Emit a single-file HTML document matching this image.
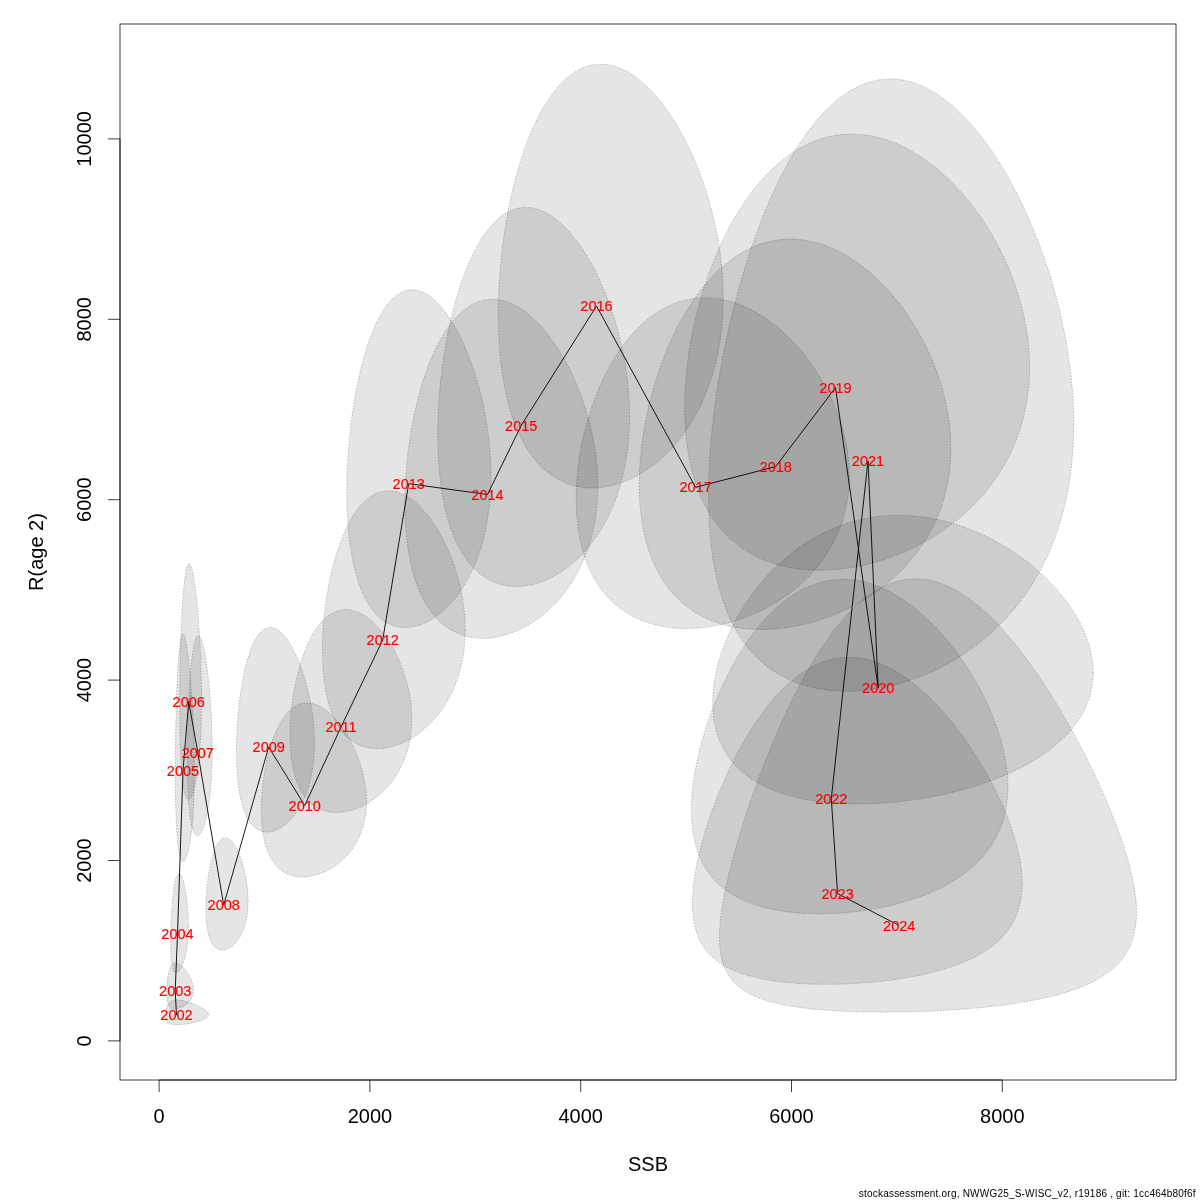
<!DOCTYPE html>
<html><head><meta charset="utf-8"><title>SSB vs R(age 2)</title>
<style>
html,body{margin:0;padding:0;background:#fff;}
body{width:1200px;height:1200px;overflow:hidden;}
svg{display:block;font-family:"Liberation Sans",sans-serif;}
.ax{font-size:20px;fill:#000;}
.yr{font-size:14.5px;fill:#f00;text-anchor:middle;stroke:#f00;stroke-width:0.15px;}
.egg{fill:rgba(0,0,0,0.1);stroke:rgba(0,0,0,0.3);stroke-width:0.75;stroke-dasharray:0.75 2.25;stroke-linecap:round;}
.ln{fill:none;stroke:#000;stroke-width:0.9;stroke-linejoin:round;}
.bx{fill:none;stroke:#000;stroke-width:0.75;}
</style></head><body>
<svg width="1200" height="1200" viewBox="0 0 1200 1200">
<rect width="1200" height="1200" fill="#fff"/>

<g class="egg">
<path d="M208.6,1014.7L208.5,1014.3L208.4,1013.8L208.3,1013.4L208.1,1012.9L207.8,1012.5L207.4,1012.0L207.0,1011.6L206.6,1011.1L206.1,1010.7L205.5,1010.2L204.9,1009.7L204.3,1009.3L203.6,1008.8L202.9,1008.4L202.1,1007.9L201.3,1007.5L200.5,1007.0L199.6,1006.6L198.7,1006.1L197.8,1005.7L196.9,1005.3L196.0,1004.9L195.0,1004.5L194.1,1004.1L193.2,1003.7L192.2,1003.3L191.3,1003.0L190.3,1002.7L189.4,1002.3L188.4,1002.0L187.5,1001.8L186.6,1001.5L185.7,1001.2L184.8,1001.0L184.0,1000.8L183.1,1000.6L182.3,1000.5L181.5,1000.3L180.7,1000.2L180.0,1000.1L179.2,1000.0L178.5,1000.0L177.8,999.9L177.1,999.9L176.5,999.9L175.9,1000.0L175.3,1000.0L174.7,1000.1L174.1,1000.2L173.6,1000.4L173.1,1000.5L172.6,1000.7L172.1,1000.9L171.7,1001.1L171.3,1001.3L170.9,1001.6L170.5,1001.9L170.1,1002.1L169.8,1002.5L169.4,1002.8L169.1,1003.1L168.8,1003.5L168.5,1003.8L168.2,1004.2L168.0,1004.6L167.8,1005.0L167.5,1005.4L167.3,1005.9L167.1,1006.3L166.9,1006.7L166.7,1007.2L166.6,1007.6L166.4,1008.1L166.3,1008.5L166.1,1009.0L166.0,1009.4L165.9,1009.9L165.8,1010.4L165.7,1010.8L165.6,1011.3L165.5,1011.8L165.5,1012.2L165.4,1012.7L165.4,1013.1L165.3,1013.6L165.3,1014.0L165.3,1014.4L165.2,1014.9L165.2,1015.3L165.2,1015.7L165.2,1016.1L165.2,1016.5L165.3,1016.9L165.3,1017.3L165.3,1017.6L165.4,1018.0L165.4,1018.4L165.5,1018.7L165.5,1019.1L165.6,1019.4L165.7,1019.7L165.8,1020.0L165.9,1020.3L166.0,1020.6L166.1,1020.9L166.3,1021.2L166.4,1021.4L166.6,1021.7L166.7,1021.9L166.9,1022.1L167.1,1022.4L167.3,1022.6L167.5,1022.8L167.8,1023.0L168.0,1023.1L168.2,1023.3L168.5,1023.5L168.8,1023.6L169.1,1023.8L169.4,1023.9L169.8,1024.0L170.1,1024.1L170.5,1024.2L170.9,1024.3L171.3,1024.4L171.7,1024.5L172.1,1024.6L172.6,1024.6L173.1,1024.7L173.6,1024.7L174.1,1024.7L174.7,1024.8L175.3,1024.8L175.9,1024.8L176.5,1024.8L177.1,1024.8L177.8,1024.7L178.5,1024.7L179.2,1024.7L180.0,1024.6L180.7,1024.5L181.5,1024.5L182.3,1024.4L183.1,1024.3L184.0,1024.2L184.8,1024.1L185.7,1024.0L186.6,1023.9L187.5,1023.7L188.4,1023.6L189.4,1023.4L190.3,1023.3L191.3,1023.1L192.2,1022.9L193.2,1022.7L194.1,1022.5L195.0,1022.3L196.0,1022.1L196.9,1021.8L197.8,1021.6L198.7,1021.3L199.6,1021.1L200.5,1020.8L201.3,1020.5L202.1,1020.2L202.9,1019.9L203.6,1019.6L204.3,1019.3L204.9,1018.9L205.5,1018.6L206.1,1018.2L206.6,1017.9L207.0,1017.5L207.4,1017.1L207.8,1016.7L208.1,1016.4L208.3,1015.9L208.4,1015.5L208.5,1015.1Z"/>
<path d="M193.5,990.0L193.4,989.2L193.4,988.4L193.3,987.6L193.2,986.8L193.1,986.0L192.9,985.1L192.7,984.3L192.5,983.4L192.2,982.6L191.9,981.7L191.6,980.9L191.3,980.0L190.9,979.2L190.5,978.3L190.1,977.5L189.7,976.7L189.3,975.9L188.8,975.1L188.4,974.3L187.9,973.5L187.4,972.7L186.9,972.0L186.4,971.2L185.8,970.5L185.3,969.8L184.8,969.2L184.2,968.5L183.7,967.9L183.2,967.3L182.6,966.8L182.1,966.3L181.5,965.8L181.0,965.3L180.5,964.9L180.0,964.5L179.4,964.2L178.9,963.9L178.4,963.6L177.9,963.4L177.5,963.2L177.0,963.1L176.5,963.0L176.1,963.0L175.6,962.9L175.2,963.0L174.8,963.0L174.4,963.2L174.0,963.3L173.6,963.5L173.2,963.7L172.9,964.0L172.5,964.3L172.2,964.7L171.8,965.1L171.5,965.5L171.2,966.0L170.9,966.5L170.6,967.0L170.4,967.6L170.1,968.2L169.9,968.8L169.6,969.4L169.4,970.1L169.2,970.8L169.0,971.5L168.8,972.3L168.6,973.0L168.4,973.8L168.3,974.6L168.1,975.4L168.0,976.2L167.8,977.0L167.7,977.9L167.6,978.7L167.5,979.6L167.3,980.4L167.2,981.3L167.2,982.1L167.1,983.0L167.0,983.8L166.9,984.7L166.9,985.5L166.8,986.3L166.8,987.2L166.7,988.0L166.7,988.8L166.7,989.6L166.7,990.4L166.7,991.2L166.6,991.9L166.7,992.7L166.7,993.4L166.7,994.2L166.7,994.9L166.7,995.6L166.8,996.3L166.8,996.9L166.9,997.6L166.9,998.2L167.0,998.8L167.1,999.4L167.2,1000.0L167.2,1000.6L167.3,1001.1L167.5,1001.6L167.6,1002.1L167.7,1002.6L167.8,1003.1L168.0,1003.5L168.1,1004.0L168.3,1004.4L168.4,1004.8L168.6,1005.2L168.8,1005.5L169.0,1005.9L169.2,1006.2L169.4,1006.5L169.6,1006.8L169.9,1007.1L170.1,1007.3L170.4,1007.5L170.6,1007.8L170.9,1007.9L171.2,1008.1L171.5,1008.3L171.8,1008.4L172.2,1008.6L172.5,1008.7L172.9,1008.8L173.2,1008.8L173.6,1008.9L174.0,1008.9L174.4,1009.0L174.8,1009.0L175.2,1008.9L175.6,1008.9L176.1,1008.9L176.5,1008.8L177.0,1008.7L177.5,1008.6L177.9,1008.5L178.4,1008.4L178.9,1008.2L179.4,1008.1L180.0,1007.9L180.5,1007.7L181.0,1007.4L181.5,1007.2L182.1,1006.9L182.6,1006.7L183.2,1006.4L183.7,1006.1L184.2,1005.7L184.8,1005.4L185.3,1005.0L185.8,1004.6L186.4,1004.2L186.9,1003.8L187.4,1003.3L187.9,1002.9L188.4,1002.4L188.8,1001.9L189.3,1001.4L189.7,1000.9L190.1,1000.3L190.5,999.7L190.9,999.2L191.3,998.5L191.6,997.9L191.9,997.3L192.2,996.6L192.5,996.0L192.7,995.3L192.9,994.6L193.1,993.8L193.2,993.1L193.3,992.4L193.4,991.6L193.4,990.8Z"/>
<path d="M188.4,925.6L188.4,923.8L188.3,922.0L188.3,920.2L188.2,918.4L188.2,916.6L188.1,914.8L188.0,912.9L187.8,911.1L187.7,909.3L187.6,907.5L187.4,905.7L187.2,903.9L187.0,902.1L186.8,900.4L186.6,898.7L186.4,897.0L186.1,895.3L185.9,893.7L185.6,892.1L185.4,890.6L185.1,889.1L184.8,887.6L184.5,886.2L184.2,884.9L183.9,883.6L183.6,882.4L183.3,881.3L183.0,880.2L182.6,879.2L182.3,878.3L182.0,877.5L181.7,876.7L181.3,876.0L181.0,875.4L180.7,874.9L180.3,874.5L180.0,874.2L179.7,874.0L179.4,873.8L179.0,873.7L178.7,873.8L178.4,873.9L178.1,874.1L177.8,874.4L177.5,874.8L177.2,875.3L176.9,875.9L176.6,876.5L176.3,877.3L176.1,878.1L175.8,879.0L175.5,879.9L175.3,881.0L175.0,882.1L174.8,883.3L174.6,884.5L174.3,885.9L174.1,887.2L173.9,888.7L173.7,890.1L173.5,891.7L173.3,893.2L173.1,894.8L172.9,896.5L172.8,898.2L172.6,899.9L172.4,901.6L172.3,903.4L172.1,905.2L172.0,907.0L171.9,908.8L171.7,910.6L171.6,912.4L171.5,914.3L171.4,916.1L171.3,917.9L171.2,919.7L171.1,921.5L171.1,923.3L171.0,925.1L170.9,926.9L170.9,928.6L170.8,930.4L170.8,932.1L170.8,933.8L170.7,935.4L170.7,937.1L170.7,938.7L170.7,940.2L170.7,941.8L170.7,943.3L170.7,944.8L170.7,946.2L170.7,947.6L170.8,949.0L170.8,950.3L170.8,951.6L170.9,952.9L170.9,954.1L171.0,955.3L171.1,956.4L171.1,957.5L171.2,958.6L171.3,959.6L171.4,960.6L171.5,961.5L171.6,962.4L171.7,963.3L171.9,964.1L172.0,964.9L172.1,965.6L172.3,966.3L172.4,967.0L172.6,967.6L172.8,968.2L172.9,968.8L173.1,969.3L173.3,969.8L173.5,970.2L173.7,970.6L173.9,971.0L174.1,971.3L174.3,971.6L174.6,971.8L174.8,972.0L175.0,972.2L175.3,972.4L175.5,972.5L175.8,972.5L176.1,972.5L176.3,972.5L176.6,972.5L176.9,972.4L177.2,972.3L177.5,972.1L177.8,971.9L178.1,971.7L178.4,971.4L178.7,971.1L179.0,970.7L179.4,970.3L179.7,969.9L180.0,969.4L180.3,968.9L180.7,968.4L181.0,967.8L181.3,967.2L181.7,966.5L182.0,965.8L182.3,965.1L182.6,964.3L183.0,963.5L183.3,962.7L183.6,961.8L183.9,960.8L184.2,959.9L184.5,958.8L184.8,957.8L185.1,956.7L185.4,955.6L185.6,954.4L185.9,953.2L186.1,951.9L186.4,950.7L186.6,949.3L186.8,948.0L187.0,946.6L187.2,945.2L187.4,943.7L187.6,942.2L187.7,940.7L187.8,939.1L188.0,937.5L188.1,935.9L188.2,934.2L188.2,932.6L188.3,930.9L188.3,929.1L188.4,927.4Z"/>
<path d="M194.4,770.8L194.4,766.9L194.3,763.0L194.3,759.0L194.2,755.0L194.2,750.9L194.1,746.8L194.0,742.7L193.8,738.5L193.7,734.4L193.5,730.2L193.4,726.0L193.2,721.9L193.0,717.7L192.8,713.6L192.6,709.5L192.3,705.4L192.1,701.3L191.8,697.3L191.6,693.4L191.3,689.5L191.0,685.7L190.7,682.0L190.4,678.3L190.1,674.8L189.8,671.3L189.5,668.0L189.1,664.8L188.8,661.7L188.5,658.7L188.1,655.9L187.8,653.2L187.4,650.7L187.1,648.3L186.7,646.1L186.4,644.1L186.1,642.2L185.7,640.6L185.4,639.1L185.0,637.8L184.7,636.7L184.3,635.8L184.0,635.1L183.7,634.6L183.3,634.3L183.0,634.2L182.7,634.3L182.4,634.6L182.0,635.1L181.7,635.8L181.4,636.7L181.1,637.8L180.9,639.1L180.6,640.6L180.3,642.2L180.0,644.1L179.8,646.1L179.5,648.3L179.3,650.7L179.0,653.2L178.8,655.9L178.5,658.7L178.3,661.7L178.1,664.8L177.9,668.0L177.7,671.3L177.5,674.8L177.3,678.3L177.2,682.0L177.0,685.7L176.8,689.5L176.7,693.4L176.5,697.3L176.4,701.3L176.3,705.4L176.2,709.5L176.1,713.6L176.0,717.7L175.9,721.9L175.8,726.0L175.7,730.2L175.6,734.4L175.5,738.5L175.5,742.7L175.4,746.8L175.4,750.9L175.4,755.0L175.3,759.0L175.3,763.0L175.3,766.9L175.3,770.8L175.3,774.6L175.3,778.4L175.3,782.1L175.4,785.8L175.4,789.3L175.4,792.8L175.5,796.3L175.5,799.6L175.6,802.9L175.7,806.1L175.8,809.2L175.9,812.2L176.0,815.2L176.1,818.0L176.2,820.8L176.3,823.5L176.4,826.1L176.5,828.6L176.7,831.0L176.8,833.3L177.0,835.5L177.2,837.7L177.3,839.7L177.5,841.6L177.7,843.5L177.9,845.3L178.1,846.9L178.3,848.5L178.5,850.0L178.8,851.4L179.0,852.7L179.3,853.9L179.5,855.1L179.8,856.1L180.0,857.1L180.3,857.9L180.6,858.7L180.9,859.3L181.1,859.9L181.4,860.4L181.7,860.8L182.0,861.1L182.4,861.4L182.7,861.5L183.0,861.5L183.3,861.5L183.7,861.4L184.0,861.1L184.3,860.8L184.7,860.4L185.0,859.9L185.4,859.3L185.7,858.7L186.1,857.9L186.4,857.1L186.7,856.1L187.1,855.1L187.4,853.9L187.8,852.7L188.1,851.4L188.5,850.0L188.8,848.5L189.1,846.9L189.5,845.3L189.8,843.5L190.1,841.6L190.4,839.7L190.7,837.7L191.0,835.5L191.3,833.3L191.6,831.0L191.8,828.6L192.1,826.1L192.3,823.5L192.6,820.8L192.8,818.0L193.0,815.2L193.2,812.2L193.4,809.2L193.5,806.1L193.7,802.9L193.8,799.6L194.0,796.3L194.1,792.8L194.2,789.3L194.2,785.8L194.3,782.1L194.3,778.4L194.4,774.6Z"/>
<path d="M201.5,698.5L201.5,694.4L201.5,690.2L201.4,686.1L201.4,681.9L201.3,677.6L201.2,673.4L201.1,669.1L200.9,664.8L200.8,660.6L200.6,656.3L200.4,652.0L200.2,647.8L200.0,643.6L199.8,639.4L199.5,635.3L199.3,631.2L199.0,627.1L198.7,623.2L198.4,619.2L198.1,615.4L197.8,611.7L197.4,608.0L197.1,604.4L196.8,601.0L196.4,597.6L196.0,594.4L195.7,591.3L195.3,588.4L194.9,585.6L194.5,582.9L194.1,580.4L193.8,578.0L193.4,575.8L193.0,573.8L192.6,571.9L192.2,570.2L191.8,568.7L191.4,567.4L191.0,566.3L190.6,565.4L190.2,564.7L189.8,564.1L189.5,563.8L189.1,563.6L188.7,563.7L188.3,564.0L188.0,564.4L187.6,565.1L187.3,565.9L186.9,566.9L186.6,568.2L186.2,569.6L185.9,571.2L185.6,573.0L185.3,574.9L185.0,577.1L184.7,579.4L184.4,581.8L184.1,584.4L183.8,587.2L183.6,590.1L183.3,593.1L183.1,596.3L182.8,599.6L182.6,603.0L182.4,606.5L182.2,610.1L182.0,613.8L181.8,617.6L181.6,621.5L181.4,625.5L181.2,629.5L181.1,633.6L180.9,637.7L180.8,641.8L180.6,646.0L180.5,650.3L180.4,654.5L180.3,658.8L180.2,663.1L180.1,667.3L180.1,671.6L180.0,675.9L179.9,680.1L179.9,684.3L179.8,688.5L179.8,692.7L179.8,696.8L179.8,700.9L179.8,704.9L179.8,708.9L179.8,712.8L179.8,716.6L179.8,720.4L179.9,724.2L179.9,727.8L180.0,731.4L180.1,734.9L180.1,738.4L180.2,741.7L180.3,745.0L180.4,748.2L180.5,751.3L180.6,754.3L180.8,757.2L180.9,760.1L181.1,762.8L181.2,765.5L181.4,768.0L181.6,770.5L181.8,772.8L182.0,775.1L182.2,777.3L182.4,779.4L182.6,781.3L182.8,783.2L183.1,785.0L183.3,786.6L183.6,788.2L183.8,789.7L184.1,791.1L184.4,792.3L184.7,793.5L185.0,794.6L185.3,795.6L185.6,796.4L185.9,797.2L186.2,797.9L186.6,798.5L186.9,798.9L187.3,799.3L187.6,799.6L188.0,799.7L188.3,799.8L188.7,799.8L189.1,799.7L189.5,799.4L189.8,799.1L190.2,798.7L190.6,798.1L191.0,797.5L191.4,796.8L191.8,795.9L192.2,795.0L192.6,794.0L193.0,792.8L193.4,791.6L193.8,790.3L194.1,788.8L194.5,787.3L194.9,785.7L195.3,784.0L195.7,782.1L196.0,780.2L196.4,778.2L196.8,776.0L197.1,773.8L197.4,771.5L197.8,769.1L198.1,766.5L198.4,763.9L198.7,761.2L199.0,758.4L199.3,755.6L199.5,752.6L199.8,749.5L200.0,746.4L200.2,743.1L200.4,739.8L200.6,736.4L200.8,732.9L200.9,729.3L201.1,725.7L201.2,722.0L201.3,718.2L201.4,714.4L201.4,710.5L201.5,706.5L201.5,702.5Z"/>
<path d="M212.1,748.9L212.1,745.4L212.1,741.9L212.0,738.4L211.9,734.8L211.9,731.2L211.7,727.6L211.6,724.0L211.5,720.4L211.3,716.8L211.1,713.1L210.9,709.5L210.7,706.0L210.4,702.4L210.2,698.9L209.9,695.4L209.6,691.9L209.3,688.5L209.0,685.2L208.7,681.9L208.3,678.7L208.0,675.5L207.6,672.4L207.3,669.4L206.9,666.5L206.5,663.7L206.1,661.0L205.7,658.4L205.2,656.0L204.8,653.6L204.4,651.4L204.0,649.3L203.5,647.3L203.1,645.5L202.6,643.8L202.2,642.3L201.8,640.9L201.3,639.7L200.9,638.6L200.4,637.7L200.0,637.0L199.5,636.4L199.1,636.0L198.7,635.8L198.2,635.7L197.8,635.8L197.4,636.0L197.0,636.5L196.5,637.0L196.1,637.8L195.7,638.7L195.4,639.8L195.0,641.0L194.6,642.4L194.2,644.0L193.9,645.7L193.5,647.5L193.2,649.5L192.8,651.6L192.5,653.8L192.2,656.2L191.9,658.7L191.6,661.3L191.3,664.0L191.0,666.8L190.7,669.7L190.5,672.7L190.2,675.8L190.0,679.0L189.7,682.2L189.5,685.5L189.3,688.8L189.1,692.3L188.9,695.7L188.7,699.2L188.6,702.7L188.4,706.3L188.3,709.9L188.1,713.5L188.0,717.1L187.9,720.7L187.8,724.3L187.7,727.9L187.6,731.5L187.6,735.1L187.5,738.7L187.4,742.2L187.4,745.7L187.4,749.2L187.4,752.7L187.4,756.1L187.4,759.4L187.4,762.7L187.4,766.0L187.4,769.2L187.5,772.3L187.6,775.4L187.6,778.4L187.7,781.4L187.8,784.3L187.9,787.1L188.0,789.9L188.1,792.6L188.3,795.2L188.4,797.7L188.6,800.2L188.7,802.6L188.9,804.9L189.1,807.1L189.3,809.2L189.5,811.3L189.7,813.3L190.0,815.2L190.2,817.0L190.5,818.7L190.7,820.4L191.0,821.9L191.3,823.4L191.6,824.8L191.9,826.1L192.2,827.4L192.5,828.5L192.8,829.6L193.2,830.5L193.5,831.4L193.9,832.2L194.2,833.0L194.6,833.6L195.0,834.1L195.4,834.6L195.7,835.0L196.1,835.3L196.5,835.5L197.0,835.6L197.4,835.6L197.8,835.6L198.2,835.5L198.7,835.2L199.1,834.9L199.5,834.6L200.0,834.1L200.4,833.5L200.9,832.9L201.3,832.2L201.8,831.3L202.2,830.5L202.6,829.5L203.1,828.4L203.5,827.3L204.0,826.0L204.4,824.7L204.8,823.3L205.2,821.8L205.7,820.2L206.1,818.6L206.5,816.8L206.9,815.0L207.3,813.1L207.6,811.1L208.0,809.0L208.3,806.9L208.7,804.6L209.0,802.3L209.3,799.9L209.6,797.5L209.9,794.9L210.2,792.3L210.4,789.6L210.7,786.9L210.9,784.0L211.1,781.1L211.3,778.2L211.5,775.1L211.6,772.0L211.7,768.9L211.9,765.7L211.9,762.4L212.0,759.1L212.1,755.7L212.1,752.3Z"/>
<path d="M248.1,901.0L248.1,899.0L248.0,897.0L247.9,895.0L247.8,893.0L247.7,890.9L247.5,888.9L247.3,886.8L247.0,884.8L246.7,882.7L246.4,880.7L246.1,878.6L245.7,876.6L245.3,874.5L244.8,872.5L244.4,870.5L243.9,868.6L243.4,866.6L242.8,864.7L242.3,862.9L241.7,861.0L241.1,859.2L240.4,857.5L239.8,855.8L239.2,854.2L238.5,852.6L237.8,851.1L237.1,849.6L236.4,848.2L235.7,846.9L234.9,845.7L234.2,844.5L233.4,843.5L232.7,842.5L231.9,841.6L231.2,840.8L230.4,840.0L229.7,839.4L228.9,838.9L228.2,838.4L227.4,838.1L226.6,837.9L225.9,837.7L225.2,837.7L224.4,837.7L223.7,837.9L223.0,838.1L222.3,838.5L221.6,839.0L220.9,839.5L220.2,840.1L219.5,840.9L218.9,841.7L218.2,842.6L217.6,843.6L217.0,844.7L216.4,845.9L215.8,847.1L215.2,848.5L214.7,849.8L214.1,851.3L213.6,852.8L213.1,854.4L212.6,856.1L212.1,857.8L211.7,859.5L211.2,861.3L210.8,863.2L210.4,865.0L210.0,867.0L209.6,868.9L209.3,870.9L208.9,872.9L208.6,874.9L208.3,876.9L208.0,879.0L207.8,881.0L207.5,883.1L207.3,885.1L207.1,887.2L206.9,889.2L206.7,891.3L206.6,893.3L206.4,895.3L206.3,897.3L206.2,899.3L206.1,901.3L206.1,903.2L206.0,905.2L206.0,907.1L206.0,908.9L206.0,910.8L206.0,912.6L206.1,914.3L206.1,916.1L206.2,917.7L206.3,919.4L206.4,921.0L206.6,922.6L206.7,924.1L206.9,925.6L207.1,927.1L207.3,928.5L207.5,929.9L207.8,931.2L208.0,932.5L208.3,933.7L208.6,934.9L208.9,936.1L209.3,937.2L209.6,938.2L210.0,939.2L210.4,940.2L210.8,941.1L211.2,942.0L211.7,942.8L212.1,943.6L212.6,944.4L213.1,945.0L213.6,945.7L214.1,946.3L214.7,946.8L215.2,947.4L215.8,947.8L216.4,948.2L217.0,948.6L217.6,949.0L218.2,949.2L218.9,949.5L219.5,949.7L220.2,949.8L220.9,949.9L221.6,950.0L222.3,950.0L223.0,950.0L223.7,949.9L224.4,949.8L225.2,949.6L225.9,949.4L226.6,949.2L227.4,948.9L228.2,948.6L228.9,948.2L229.7,947.8L230.4,947.3L231.2,946.8L231.9,946.2L232.7,945.6L233.4,944.9L234.2,944.2L234.9,943.5L235.7,942.7L236.4,941.9L237.1,941.0L237.8,940.0L238.5,939.1L239.2,938.1L239.8,937.0L240.4,935.9L241.1,934.7L241.7,933.5L242.3,932.3L242.8,931.0L243.4,929.7L243.9,928.3L244.4,926.9L244.8,925.4L245.3,923.9L245.7,922.3L246.1,920.8L246.4,919.1L246.7,917.5L247.0,915.8L247.3,914.0L247.5,912.3L247.7,910.4L247.8,908.6L247.9,906.7L248.0,904.8L248.1,902.9Z"/>
<path d="M314.4,743.0L314.4,739.4L314.3,735.8L314.2,732.2L313.9,728.5L313.6,724.8L313.3,721.2L312.8,717.5L312.4,713.8L311.8,710.1L311.2,706.4L310.6,702.7L309.8,699.0L309.1,695.4L308.2,691.8L307.4,688.2L306.4,684.7L305.5,681.2L304.4,677.8L303.4,674.4L302.3,671.1L301.1,667.9L300.0,664.7L298.8,661.7L297.5,658.7L296.2,655.9L295.0,653.1L293.6,650.5L292.3,647.9L291.0,645.5L289.6,643.3L288.2,641.1L286.8,639.1L285.4,637.3L284.0,635.6L282.6,634.0L281.2,632.6L279.8,631.4L278.4,630.3L276.9,629.4L275.5,628.7L274.2,628.1L272.8,627.7L271.4,627.5L270.0,627.4L268.7,627.5L267.4,627.8L266.1,628.3L264.8,628.9L263.5,629.7L262.3,630.6L261.0,631.8L259.8,633.0L258.7,634.5L257.5,636.1L256.4,637.8L255.3,639.7L254.2,641.8L253.2,643.9L252.1,646.2L251.2,648.7L250.2,651.2L249.3,653.9L248.4,656.7L247.5,659.6L246.7,662.6L245.9,665.6L245.1,668.8L244.4,672.1L243.7,675.4L243.0,678.8L242.4,682.2L241.8,685.7L241.2,689.2L240.6,692.8L240.1,696.4L239.6,700.1L239.2,703.8L238.8,707.4L238.4,711.1L238.1,714.8L237.8,718.5L237.5,722.2L237.2,725.9L237.0,729.6L236.8,733.2L236.7,736.8L236.6,740.4L236.5,744.0L236.4,747.5L236.4,751.0L236.4,754.4L236.5,757.8L236.6,761.1L236.7,764.4L236.8,767.6L237.0,770.8L237.2,773.8L237.5,776.9L237.8,779.8L238.1,782.7L238.4,785.5L238.8,788.2L239.2,790.9L239.6,793.5L240.1,796.0L240.6,798.4L241.2,800.8L241.8,803.0L242.4,805.2L243.0,807.3L243.7,809.3L244.4,811.3L245.1,813.1L245.9,814.9L246.7,816.6L247.5,818.2L248.4,819.7L249.3,821.1L250.2,822.4L251.2,823.7L252.1,824.8L253.2,825.9L254.2,826.9L255.3,827.8L256.4,828.6L257.5,829.3L258.7,830.0L259.8,830.5L261.0,831.0L262.3,831.4L263.5,831.7L264.8,831.9L266.1,832.0L267.4,832.0L268.7,831.9L270.0,831.8L271.4,831.6L272.8,831.3L274.2,830.9L275.5,830.4L276.9,829.8L278.4,829.1L279.8,828.4L281.2,827.5L282.6,826.6L284.0,825.6L285.4,824.5L286.8,823.3L288.2,822.0L289.6,820.7L291.0,819.2L292.3,817.7L293.6,816.1L295.0,814.4L296.2,812.6L297.5,810.7L298.8,808.8L300.0,806.7L301.1,804.6L302.3,802.4L303.4,800.1L304.4,797.7L305.5,795.3L306.4,792.7L307.4,790.1L308.2,787.5L309.1,784.7L309.8,781.9L310.6,779.0L311.2,776.0L311.8,772.9L312.4,769.8L312.8,766.7L313.3,763.4L313.6,760.2L313.9,756.8L314.2,753.4L314.3,750.0L314.4,746.5Z"/>
<path d="M366.5,801.5L366.5,798.5L366.3,795.4L366.1,792.3L365.8,789.2L365.4,786.1L364.9,782.9L364.3,779.8L363.7,776.6L363.0,773.4L362.1,770.3L361.2,767.1L360.3,764.0L359.2,760.9L358.1,757.8L356.9,754.7L355.7,751.7L354.3,748.7L353.0,745.8L351.5,742.9L350.0,740.1L348.5,737.3L346.9,734.6L345.3,732.0L343.6,729.5L341.9,727.0L340.1,724.7L338.4,722.4L336.6,720.2L334.7,718.2L332.9,716.2L331.0,714.4L329.1,712.7L327.2,711.1L325.3,709.7L323.4,708.4L321.5,707.2L319.6,706.1L317.7,705.2L315.8,704.5L313.9,703.9L312.0,703.4L310.2,703.1L308.3,702.9L306.5,702.9L304.7,703.0L302.9,703.3L301.2,703.7L299.4,704.3L297.7,705.0L296.0,705.8L294.4,706.8L292.8,708.0L291.2,709.2L289.6,710.6L288.1,712.2L286.6,713.8L285.2,715.6L283.8,717.5L282.4,719.5L281.1,721.7L279.8,723.9L278.6,726.2L277.4,728.6L276.2,731.1L275.1,733.7L274.0,736.4L273.0,739.1L272.0,741.9L271.0,744.8L270.1,747.7L269.3,750.7L268.5,753.7L267.7,756.8L267.0,759.8L266.3,762.9L265.6,766.1L265.0,769.2L264.5,772.4L264.0,775.5L263.5,778.7L263.1,781.9L262.7,785.0L262.4,788.1L262.1,791.3L261.9,794.4L261.7,797.4L261.5,800.5L261.4,803.5L261.3,806.5L261.3,809.4L261.3,812.3L261.4,815.2L261.5,818.0L261.7,820.8L261.9,823.5L262.1,826.1L262.4,828.7L262.7,831.2L263.1,833.7L263.5,836.1L264.0,838.5L264.5,840.8L265.0,843.0L265.6,845.2L266.3,847.3L267.0,849.3L267.7,851.2L268.5,853.1L269.3,855.0L270.1,856.7L271.0,858.4L272.0,860.0L273.0,861.5L274.0,863.0L275.1,864.4L276.2,865.7L277.4,866.9L278.6,868.1L279.8,869.2L281.1,870.2L282.4,871.2L283.8,872.0L285.2,872.9L286.6,873.6L288.1,874.3L289.6,874.8L291.2,875.4L292.8,875.8L294.4,876.2L296.0,876.5L297.7,876.7L299.4,876.9L301.2,877.0L302.9,877.0L304.7,876.9L306.5,876.8L308.3,876.6L310.2,876.3L312.0,875.9L313.9,875.5L315.8,875.0L317.7,874.5L319.6,873.8L321.5,873.1L323.4,872.3L325.3,871.5L327.2,870.5L329.1,869.5L331.0,868.5L332.9,867.3L334.7,866.1L336.6,864.8L338.4,863.4L340.1,862.0L341.9,860.5L343.6,858.9L345.3,857.3L346.9,855.5L348.5,853.7L350.0,851.9L351.5,850.0L353.0,847.9L354.3,845.9L355.7,843.7L356.9,841.5L358.1,839.3L359.2,836.9L360.3,834.5L361.2,832.1L362.1,829.6L363.0,827.0L363.7,824.3L364.3,821.7L364.9,818.9L365.4,816.1L365.8,813.3L366.1,810.4L366.3,807.5L366.5,804.5Z"/>
<path d="M411.8,719.0L411.8,715.4L411.6,711.8L411.4,708.2L411.0,704.5L410.6,700.9L410.0,697.2L409.4,693.6L408.6,689.9L407.8,686.3L406.9,682.7L405.8,679.0L404.7,675.5L403.5,671.9L402.3,668.4L400.9,665.0L399.5,661.6L398.0,658.2L396.4,654.9L394.8,651.7L393.1,648.6L391.3,645.5L389.5,642.5L387.7,639.6L385.8,636.9L383.8,634.2L381.8,631.6L379.8,629.2L377.7,626.9L375.6,624.7L373.5,622.6L371.4,620.7L369.2,618.9L367.0,617.3L364.8,615.8L362.7,614.5L360.5,613.3L358.3,612.2L356.1,611.4L353.9,610.7L351.7,610.2L349.5,609.8L347.4,609.6L345.2,609.5L343.1,609.7L341.0,610.0L338.9,610.4L336.9,611.1L334.9,611.9L332.9,612.8L330.9,613.9L329.0,615.2L327.1,616.6L325.2,618.2L323.4,619.9L321.7,621.8L319.9,623.8L318.2,625.9L316.6,628.2L315.0,630.6L313.4,633.1L311.9,635.7L310.5,638.4L309.0,641.3L307.7,644.2L306.3,647.2L305.1,650.3L303.9,653.5L302.7,656.8L301.6,660.1L300.5,663.5L299.5,666.9L298.5,670.4L297.6,673.9L296.7,677.5L295.9,681.1L295.2,684.7L294.5,688.3L293.8,692.0L293.2,695.6L292.7,699.3L292.2,702.9L291.7,706.6L291.3,710.2L291.0,713.8L290.7,717.4L290.4,721.0L290.3,724.5L290.1,728.0L290.1,731.4L290.0,734.8L290.1,738.2L290.1,741.5L290.3,744.8L290.4,748.0L290.7,751.1L291.0,754.2L291.3,757.2L291.7,760.2L292.2,763.0L292.7,765.9L293.2,768.6L293.8,771.3L294.5,773.9L295.2,776.4L295.9,778.8L296.7,781.2L297.6,783.4L298.5,785.6L299.5,787.7L300.5,789.8L301.6,791.7L302.7,793.6L303.9,795.3L305.1,797.0L306.3,798.6L307.7,800.1L309.0,801.6L310.5,802.9L311.9,804.2L313.4,805.3L315.0,806.4L316.6,807.4L318.2,808.3L319.9,809.1L321.7,809.8L323.4,810.5L325.2,811.0L327.1,811.5L329.0,811.9L330.9,812.2L332.9,812.3L334.9,812.5L336.9,812.5L338.9,812.4L341.0,812.2L343.1,812.0L345.2,811.7L347.4,811.2L349.5,810.7L351.7,810.1L353.9,809.4L356.1,808.7L358.3,807.8L360.5,806.9L362.7,805.8L364.8,804.7L367.0,803.5L369.2,802.2L371.4,800.8L373.5,799.3L375.6,797.7L377.7,796.1L379.8,794.3L381.8,792.5L383.8,790.6L385.8,788.6L387.7,786.5L389.5,784.4L391.3,782.2L393.1,779.8L394.8,777.4L396.4,775.0L398.0,772.4L399.5,769.8L400.9,767.1L402.3,764.3L403.5,761.4L404.7,758.5L405.8,755.5L406.9,752.5L407.8,749.3L408.6,746.2L409.4,742.9L410.0,739.6L410.6,736.3L411.0,732.9L411.4,729.5L411.6,726.0L411.8,722.5Z"/>
<path d="M465.2,629.7L465.2,625.2L465.0,620.6L464.7,616.0L464.3,611.4L463.8,606.7L463.1,602.1L462.4,597.4L461.5,592.8L460.6,588.2L459.5,583.6L458.3,579.0L457.0,574.5L455.6,570.0L454.2,565.5L452.6,561.1L451.0,556.8L449.2,552.5L447.4,548.4L445.5,544.3L443.5,540.3L441.5,536.4L439.4,532.6L437.2,529.0L435.0,525.5L432.7,522.1L430.4,518.8L428.0,515.7L425.6,512.8L423.2,510.0L420.7,507.4L418.2,504.9L415.7,502.7L413.2,500.6L410.6,498.7L408.1,497.0L405.5,495.5L402.9,494.2L400.4,493.1L397.8,492.3L395.2,491.6L392.7,491.1L390.2,490.9L387.7,490.8L385.2,491.0L382.7,491.4L380.3,492.0L377.9,492.8L375.5,493.8L373.1,495.0L370.8,496.4L368.6,498.0L366.3,499.8L364.2,501.8L362.0,504.0L359.9,506.4L357.9,508.9L355.9,511.6L353.9,514.5L352.0,517.5L350.2,520.7L348.4,524.1L346.7,527.5L345.0,531.1L343.4,534.9L341.8,538.7L340.3,542.6L338.9,546.7L337.5,550.8L336.1,555.1L334.9,559.4L333.7,563.7L332.5,568.1L331.4,572.6L330.4,577.2L329.4,581.7L328.5,586.3L327.7,590.9L326.9,595.6L326.2,600.2L325.5,604.9L325.0,609.5L324.4,614.1L324.0,618.7L323.5,623.3L323.2,627.9L322.9,632.4L322.7,636.9L322.5,641.3L322.5,645.7L322.4,650.0L322.5,654.3L322.5,658.5L322.7,662.7L322.9,666.7L323.2,670.7L323.5,674.6L324.0,678.5L324.4,682.2L325.0,685.9L325.5,689.5L326.2,692.9L326.9,696.3L327.7,699.6L328.5,702.8L329.4,705.9L330.4,708.9L331.4,711.8L332.5,714.6L333.7,717.3L334.9,719.9L336.1,722.3L337.5,724.7L338.9,726.9L340.3,729.1L341.8,731.1L343.4,733.1L345.0,734.9L346.7,736.6L348.4,738.2L350.2,739.7L352.0,741.0L353.9,742.3L355.9,743.4L357.9,744.5L359.9,745.4L362.0,746.2L364.2,746.9L366.3,747.5L368.6,748.0L370.8,748.3L373.1,748.6L375.5,748.7L377.9,748.7L380.3,748.6L382.7,748.4L385.2,748.1L387.7,747.7L390.2,747.1L392.7,746.5L395.2,745.7L397.8,744.9L400.4,743.9L402.9,742.8L405.5,741.5L408.1,740.2L410.6,738.8L413.2,737.2L415.7,735.6L418.2,733.8L420.7,731.9L423.2,729.9L425.6,727.8L428.0,725.6L430.4,723.3L432.7,720.9L435.0,718.3L437.2,715.7L439.4,712.9L441.5,710.1L443.5,707.1L445.5,704.1L447.4,700.9L449.2,697.7L451.0,694.3L452.6,690.9L454.2,687.3L455.6,683.7L457.0,680.0L458.3,676.2L459.5,672.3L460.6,668.4L461.5,664.3L462.4,660.2L463.1,656.0L463.8,651.8L464.3,647.5L464.7,643.1L465.0,638.7L465.2,634.2Z"/>
<path d="M490.9,475.6L490.9,469.7L490.7,463.8L490.4,457.8L490.0,451.8L489.5,445.7L488.9,439.7L488.1,433.6L487.3,427.5L486.3,421.5L485.3,415.5L484.1,409.5L482.9,403.5L481.5,397.6L480.1,391.8L478.5,386.0L476.9,380.3L475.2,374.7L473.4,369.2L471.5,363.8L469.5,358.5L467.5,353.3L465.4,348.3L463.3,343.4L461.1,338.7L458.8,334.2L456.5,329.8L454.2,325.6L451.8,321.6L449.4,317.8L446.9,314.3L444.4,310.9L441.9,307.8L439.4,304.9L436.8,302.2L434.2,299.8L431.7,297.6L429.1,295.7L426.5,294.1L423.9,292.7L421.4,291.6L418.8,290.7L416.2,290.2L413.7,289.8L411.2,289.8L408.7,290.1L406.2,290.6L403.8,291.4L401.4,292.4L399.0,293.7L396.7,295.3L394.4,297.2L392.1,299.3L389.9,301.6L387.7,304.2L385.5,307.1L383.4,310.1L381.4,313.4L379.4,317.0L377.5,320.7L375.6,324.6L373.7,328.8L372.0,333.1L370.2,337.6L368.6,342.3L367.0,347.1L365.4,352.1L363.9,357.2L362.5,362.5L361.1,367.8L359.8,373.3L358.5,378.9L357.3,384.6L356.2,390.4L355.1,396.2L354.1,402.1L353.2,408.0L352.3,414.0L351.5,420.0L350.8,426.1L350.1,432.1L349.5,438.2L348.9,444.3L348.4,450.3L348.0,456.3L347.7,462.3L347.4,468.3L347.1,474.2L347.0,480.1L346.9,485.9L346.8,491.7L346.9,497.3L347.0,502.9L347.1,508.5L347.4,513.9L347.7,519.3L348.0,524.5L348.4,529.7L348.9,534.7L349.5,539.7L350.1,544.5L350.8,549.2L351.5,553.8L352.3,558.3L353.2,562.6L354.1,566.8L355.1,570.9L356.2,574.9L357.3,578.7L358.5,582.4L359.8,586.0L361.1,589.4L362.5,592.6L363.9,595.8L365.4,598.8L367.0,601.6L368.6,604.3L370.2,606.8L372.0,609.3L373.7,611.5L375.6,613.6L377.5,615.6L379.4,617.4L381.4,619.1L383.4,620.6L385.5,622.0L387.7,623.2L389.9,624.3L392.1,625.2L394.4,625.9L396.7,626.6L399.0,627.0L401.4,627.3L403.8,627.5L406.2,627.5L408.7,627.4L411.2,627.1L413.7,626.7L416.2,626.1L418.8,625.4L421.4,624.5L423.9,623.5L426.5,622.3L429.1,620.9L431.7,619.5L434.2,617.8L436.8,616.0L439.4,614.1L441.9,612.0L444.4,609.8L446.9,607.4L449.4,604.9L451.8,602.3L454.2,599.4L456.5,596.5L458.8,593.4L461.1,590.2L463.3,586.8L465.4,583.3L467.5,579.6L469.5,575.8L471.5,571.9L473.4,567.8L475.2,563.6L476.9,559.3L478.5,554.9L480.1,550.3L481.5,545.6L482.9,540.8L484.1,535.9L485.3,530.9L486.3,525.8L487.3,520.5L488.1,515.2L488.9,509.8L489.5,504.3L490.0,498.7L490.4,493.0L490.7,487.3L490.9,481.5Z"/>
<path d="M597.8,486.1L597.8,480.2L597.5,474.2L597.1,468.2L596.6,462.1L595.9,456.0L595.1,450.0L594.1,443.9L592.9,437.8L591.7,431.7L590.2,425.6L588.7,419.6L587.0,413.6L585.2,407.7L583.2,401.8L581.1,396.0L578.9,390.2L576.6,384.6L574.2,379.1L571.7,373.6L569.1,368.3L566.4,363.1L563.6,358.1L560.7,353.2L557.7,348.4L554.7,343.8L551.6,339.4L548.5,335.2L545.2,331.2L542.0,327.4L538.7,323.8L535.3,320.4L532.0,317.3L528.6,314.4L525.1,311.7L521.7,309.3L518.3,307.1L514.8,305.2L511.3,303.5L507.9,302.2L504.4,301.0L501.0,300.2L497.6,299.6L494.2,299.3L490.8,299.3L487.5,299.6L484.2,300.1L480.9,300.9L477.7,302.0L474.5,303.3L471.4,305.0L468.3,306.8L465.3,309.0L462.3,311.4L459.4,314.0L456.5,316.9L453.7,320.0L451.0,323.3L448.3,326.9L445.7,330.7L443.2,334.7L440.8,338.9L438.4,343.2L436.1,347.8L433.9,352.5L431.7,357.4L429.6,362.4L427.6,367.6L425.7,372.9L423.9,378.3L422.1,383.9L420.5,389.5L418.9,395.2L417.4,401.0L416.0,406.9L414.6,412.8L413.4,418.8L412.2,424.8L411.1,430.9L410.2,437.0L409.2,443.0L408.4,449.1L407.7,455.2L407.0,461.3L406.5,467.4L406.0,473.4L405.6,479.4L405.3,485.3L405.1,491.2L405.0,497.0L404.9,502.8L405.0,508.5L405.1,514.1L405.3,519.6L405.6,525.1L406.0,530.4L406.5,535.7L407.0,540.8L407.7,545.9L408.4,550.8L409.2,555.7L410.2,560.4L411.1,565.0L412.2,569.4L413.4,573.8L414.6,578.0L416.0,582.0L417.4,586.0L418.9,589.8L420.5,593.5L422.1,597.0L423.9,600.4L425.7,603.7L427.6,606.8L429.6,609.8L431.7,612.6L433.9,615.3L436.1,617.8L438.4,620.2L440.8,622.5L443.2,624.6L445.7,626.5L448.3,628.3L451.0,630.0L453.7,631.5L456.5,632.8L459.4,634.0L462.3,635.1L465.3,636.0L468.3,636.8L471.4,637.4L474.5,637.8L477.7,638.1L480.9,638.3L484.2,638.3L487.5,638.2L490.8,637.9L494.2,637.4L497.6,636.9L501.0,636.1L504.4,635.2L507.9,634.2L511.3,633.0L514.8,631.7L518.3,630.2L521.7,628.5L525.1,626.8L528.6,624.8L532.0,622.8L535.3,620.5L538.7,618.2L542.0,615.6L545.2,613.0L548.5,610.2L551.6,607.2L554.7,604.1L557.7,600.9L560.7,597.5L563.6,594.0L566.4,590.3L569.1,586.5L571.7,582.6L574.2,578.5L576.6,574.3L578.9,570.0L581.1,565.6L583.2,561.0L585.2,556.3L587.0,551.5L588.7,546.6L590.2,541.5L591.7,536.4L592.9,531.1L594.1,525.8L595.1,520.4L595.9,514.8L596.6,509.2L597.1,503.5L597.5,497.8L597.8,492.0Z"/>
<path d="M629.6,416.2L629.5,409.6L629.3,402.9L628.9,396.2L628.4,389.4L627.7,382.6L626.9,375.8L625.9,369.0L624.8,362.2L623.6,355.4L622.2,348.6L620.7,341.9L619.1,335.2L617.3,328.5L615.4,322.0L613.4,315.5L611.2,309.1L609.0,302.8L606.6,296.6L604.2,290.5L601.6,284.5L599.0,278.7L596.2,273.1L593.4,267.6L590.5,262.3L587.6,257.2L584.5,252.3L581.4,247.6L578.3,243.1L575.1,238.9L571.8,234.8L568.6,231.1L565.2,227.6L561.9,224.3L558.5,221.3L555.1,218.6L551.7,216.2L548.3,214.0L544.9,212.2L541.5,210.6L538.0,209.4L534.6,208.4L531.2,207.8L527.9,207.5L524.5,207.4L521.2,207.7L517.9,208.3L514.6,209.2L511.4,210.4L508.2,211.9L505.1,213.7L502.0,215.8L499.0,218.2L496.0,220.8L493.1,223.8L490.2,227.0L487.4,230.5L484.6,234.2L481.9,238.2L479.3,242.4L476.8,246.8L474.3,251.5L471.9,256.4L469.5,261.5L467.3,266.7L465.1,272.2L463.0,277.8L461.0,283.6L459.0,289.5L457.2,295.5L455.4,301.7L453.7,308.0L452.1,314.4L450.5,320.9L449.1,327.5L447.7,334.1L446.5,340.8L445.3,347.5L444.2,354.3L443.1,361.1L442.2,367.9L441.4,374.7L440.6,381.5L440.0,388.3L439.4,395.0L438.9,401.8L438.5,408.5L438.2,415.1L438.0,421.7L437.8,428.2L437.8,434.7L437.8,441.0L438.0,447.3L438.2,453.5L438.5,459.6L438.9,465.6L439.4,471.5L440.0,477.3L440.6,482.9L441.4,488.4L442.2,493.8L443.1,499.1L444.2,504.3L445.3,509.3L446.5,514.1L447.7,518.8L449.1,523.4L450.5,527.8L452.1,532.1L453.7,536.2L455.4,540.2L457.2,544.0L459.0,547.6L461.0,551.1L463.0,554.5L465.1,557.6L467.3,560.7L469.5,563.5L471.9,566.2L474.3,568.7L476.8,571.1L479.3,573.3L481.9,575.3L484.6,577.1L487.4,578.8L490.2,580.3L493.1,581.7L496.0,582.9L499.0,583.9L502.0,584.8L505.1,585.4L508.2,586.0L511.4,586.3L514.6,586.5L517.9,586.5L521.2,586.4L524.5,586.0L527.9,585.5L531.2,584.9L534.6,584.1L538.0,583.1L541.5,581.9L544.9,580.6L548.3,579.1L551.7,577.4L555.1,575.6L558.5,573.6L561.9,571.4L565.2,569.1L568.6,566.6L571.8,564.0L575.1,561.1L578.3,558.2L581.4,555.0L584.5,551.7L587.6,548.2L590.5,544.6L593.4,540.8L596.2,536.9L599.0,532.8L601.6,528.5L604.2,524.1L606.6,519.6L609.0,514.9L611.2,510.1L613.4,505.1L615.4,500.0L617.3,494.7L619.1,489.3L620.7,483.8L622.2,478.2L623.6,472.5L624.8,466.6L625.9,460.6L626.9,454.5L627.7,448.4L628.4,442.1L628.9,435.7L629.3,429.3L629.5,422.8Z"/>
<path d="M723.2,298.0L723.1,290.6L722.8,283.1L722.4,275.6L721.8,268.1L721.0,260.5L720.1,253.0L718.9,245.4L717.7,237.8L716.2,230.2L714.6,222.7L712.8,215.2L710.9,207.7L708.8,200.3L706.6,193.0L704.3,185.8L701.8,178.7L699.2,171.6L696.4,164.7L693.6,158.0L690.6,151.3L687.5,144.9L684.3,138.6L681.0,132.5L677.7,126.6L674.2,120.9L670.6,115.4L667.0,110.1L663.4,105.1L659.6,100.3L655.8,95.8L652.0,91.6L648.1,87.6L644.2,83.9L640.2,80.5L636.3,77.4L632.3,74.7L628.3,72.2L624.3,70.1L620.3,68.3L616.3,66.8L612.3,65.6L608.3,64.8L604.3,64.4L600.4,64.2L596.5,64.4L592.6,65.0L588.8,65.8L585.0,67.0L581.3,68.6L577.6,70.4L574.0,72.6L570.4,75.2L566.9,78.0L563.4,81.1L560.1,84.6L556.7,88.3L553.5,92.3L550.4,96.6L547.3,101.2L544.3,106.0L541.3,111.0L538.5,116.3L535.8,121.9L533.1,127.6L530.5,133.6L528.0,139.7L525.7,146.0L523.4,152.5L521.2,159.2L519.1,166.0L517.1,172.9L515.2,179.9L513.3,187.1L511.6,194.4L510.0,201.7L508.5,209.1L507.1,216.5L505.8,224.1L504.6,231.6L503.5,239.2L502.5,246.8L501.6,254.3L500.8,261.9L500.2,269.5L499.6,277.0L499.1,284.5L498.7,291.9L498.5,299.3L498.3,306.7L498.3,313.9L498.3,321.1L498.5,328.2L498.7,335.2L499.1,342.0L499.6,348.8L500.2,355.5L500.8,362.0L501.6,368.4L502.5,374.7L503.5,380.8L504.6,386.8L505.8,392.7L507.1,398.4L508.5,403.9L510.0,409.3L511.6,414.5L513.3,419.6L515.2,424.5L517.1,429.2L519.1,433.8L521.2,438.1L523.4,442.4L525.7,446.4L528.0,450.2L530.5,453.9L533.1,457.4L535.8,460.7L538.5,463.8L541.3,466.7L544.3,469.5L547.3,472.0L550.4,474.4L553.5,476.5L556.7,478.5L560.1,480.3L563.4,481.9L566.9,483.4L570.4,484.6L574.0,485.6L577.6,486.5L581.3,487.1L585.0,487.6L588.8,487.9L592.6,487.9L596.5,487.8L600.4,487.5L604.3,487.0L608.3,486.3L612.3,485.4L616.3,484.4L620.3,483.1L624.3,481.7L628.3,480.0L632.3,478.2L636.3,476.2L640.2,474.0L644.2,471.6L648.1,469.0L652.0,466.2L655.8,463.2L659.6,460.1L663.4,456.8L667.0,453.2L670.6,449.5L674.2,445.7L677.7,441.6L681.0,437.4L684.3,433.0L687.5,428.4L690.6,423.6L693.6,418.7L696.4,413.6L699.2,408.3L701.8,402.9L704.3,397.4L706.6,391.6L708.8,385.7L710.9,379.7L712.8,373.6L714.6,367.3L716.2,360.8L717.7,354.3L718.9,347.6L720.1,340.8L721.0,333.9L721.8,326.9L722.4,319.8L722.8,312.6L723.1,305.3Z"/>
<path d="M849.3,476.0L849.1,470.1L848.8,464.3L848.3,458.4L847.6,452.5L846.6,446.6L845.5,440.7L844.1,434.7L842.6,428.8L840.8,422.9L838.9,417.0L836.7,411.2L834.4,405.4L831.9,399.7L829.2,394.0L826.4,388.4L823.3,382.9L820.2,377.4L816.8,372.1L813.4,366.9L809.8,361.8L806.0,356.9L802.2,352.0L798.2,347.4L794.1,342.9L789.9,338.5L785.6,334.4L781.2,330.4L776.7,326.6L772.2,323.1L767.6,319.7L762.9,316.6L758.2,313.6L753.5,311.0L748.7,308.5L743.9,306.3L739.0,304.3L734.2,302.6L729.3,301.2L724.4,300.0L719.6,299.0L714.7,298.4L709.9,298.0L705.1,297.8L700.3,297.9L695.6,298.3L690.9,299.0L686.3,299.9L681.7,301.1L677.1,302.5L672.6,304.2L668.2,306.2L663.9,308.4L659.6,310.8L655.4,313.5L651.3,316.4L647.3,319.5L643.4,322.9L639.5,326.5L635.8,330.2L632.1,334.2L628.6,338.3L625.1,342.7L621.8,347.2L618.5,351.8L615.4,356.6L612.4,361.6L609.5,366.7L606.7,371.9L604.0,377.2L601.5,382.6L599.0,388.1L596.7,393.7L594.5,399.4L592.4,405.1L590.5,410.9L588.6,416.7L586.9,422.6L585.3,428.5L583.9,434.4L582.5,440.4L581.3,446.3L580.2,452.2L579.3,458.1L578.5,464.0L577.8,469.9L577.2,475.7L576.7,481.4L576.4,487.2L576.2,492.8L576.2,498.4L576.2,503.9L576.4,509.4L576.7,514.8L577.2,520.0L577.8,525.2L578.5,530.3L579.3,535.3L580.2,540.2L581.3,545.0L582.5,549.7L583.9,554.2L585.3,558.6L586.9,563.0L588.6,567.2L590.5,571.2L592.4,575.2L594.5,579.0L596.7,582.6L599.0,586.2L601.5,589.6L604.0,592.9L606.7,596.0L609.5,599.0L612.4,601.8L615.4,604.5L618.5,607.1L621.8,609.5L625.1,611.8L628.6,614.0L632.1,615.9L635.8,617.8L639.5,619.5L643.4,621.0L647.3,622.4L651.3,623.7L655.4,624.8L659.6,625.8L663.9,626.6L668.2,627.3L672.6,627.8L677.1,628.2L681.7,628.4L686.3,628.5L690.9,628.4L695.6,628.2L700.3,627.8L705.1,627.3L709.9,626.6L714.7,625.8L719.6,624.9L724.4,623.8L729.3,622.5L734.2,621.1L739.0,619.6L743.9,617.9L748.7,616.0L753.5,614.1L758.2,611.9L762.9,609.7L767.6,607.2L772.2,604.7L776.7,602.0L781.2,599.1L785.6,596.1L789.9,593.0L794.1,589.8L798.2,586.4L802.2,582.8L806.0,579.2L809.8,575.4L813.4,571.4L816.8,567.4L820.2,563.2L823.3,558.9L826.4,554.4L829.2,549.9L831.9,545.2L834.4,540.4L836.7,535.6L838.9,530.6L840.8,525.5L842.6,520.3L844.1,515.0L845.5,509.7L846.6,504.2L847.6,498.7L848.3,493.1L848.8,487.4L849.1,481.7Z"/>
<path d="M950.9,448.3L950.8,441.4L950.4,434.4L949.8,427.5L949.0,420.4L947.9,413.4L946.6,406.3L945.1,399.3L943.3,392.2L941.3,385.2L939.1,378.2L936.6,371.3L934.0,364.4L931.1,357.6L928.1,350.8L924.8,344.1L921.4,337.6L917.8,331.1L914.0,324.8L910.0,318.6L905.9,312.6L901.7,306.7L897.2,301.0L892.7,295.5L888.0,290.2L883.2,285.1L878.3,280.2L873.4,275.5L868.3,271.1L863.1,266.9L857.8,263.0L852.5,259.4L847.2,256.0L841.7,252.9L836.3,250.2L830.8,247.7L825.2,245.5L819.7,243.6L814.2,242.1L808.6,240.9L803.1,239.9L797.5,239.4L792.0,239.1L786.6,239.2L781.1,239.6L775.7,240.3L770.3,241.3L765.0,242.7L759.8,244.3L754.6,246.3L749.5,248.6L744.5,251.2L739.5,254.1L734.6,257.3L729.8,260.8L725.1,264.5L720.6,268.5L716.1,272.8L711.7,277.3L707.4,282.1L703.2,287.0L699.2,292.2L695.2,297.6L691.4,303.2L687.7,309.0L684.1,314.9L680.7,321.0L677.4,327.3L674.2,333.7L671.1,340.2L668.2,346.8L665.4,353.5L662.7,360.2L660.2,367.1L657.9,374.0L655.6,381.0L653.5,388.0L651.6,395.0L649.7,402.1L648.1,409.1L646.6,416.2L645.2,423.2L643.9,430.2L642.8,437.2L641.9,444.1L641.1,451.0L640.4,457.8L639.9,464.6L639.5,471.3L639.3,477.8L639.3,484.3L639.3,490.7L639.5,497.1L639.9,503.2L640.4,509.3L641.1,515.3L641.9,521.1L642.8,526.8L643.9,532.4L645.2,537.9L646.6,543.2L648.1,548.4L649.7,553.4L651.6,558.2L653.5,563.0L655.6,567.5L657.9,572.0L660.2,576.2L662.7,580.3L665.4,584.3L668.2,588.1L671.1,591.7L674.2,595.1L677.4,598.4L680.7,601.6L684.1,604.5L687.7,607.3L691.4,610.0L695.2,612.5L699.2,614.8L703.2,616.9L707.4,618.9L711.7,620.7L716.1,622.3L720.6,623.8L725.1,625.1L729.8,626.2L734.6,627.2L739.5,628.0L744.5,628.6L749.5,629.1L754.6,629.4L759.8,629.5L765.0,629.5L770.3,629.3L775.7,628.9L781.1,628.4L786.6,627.7L792.0,626.8L797.5,625.8L803.1,624.6L808.6,623.2L814.2,621.7L819.7,620.0L825.2,618.1L830.8,616.1L836.3,613.9L841.7,611.5L847.2,609.0L852.5,606.3L857.8,603.4L863.1,600.4L868.3,597.2L873.4,593.8L878.3,590.3L883.2,586.6L888.0,582.7L892.7,578.7L897.2,574.6L901.7,570.2L905.9,565.8L910.0,561.1L914.0,556.3L917.8,551.4L921.4,546.3L924.8,541.1L928.1,535.7L931.1,530.2L934.0,524.6L936.6,518.8L939.1,512.9L941.3,506.9L943.3,500.8L945.1,494.6L946.6,488.2L947.9,481.8L949.0,475.2L949.8,468.6L950.4,461.9L950.8,455.1Z"/>
<path d="M1029.6,367.1L1029.5,359.4L1029.1,351.7L1028.4,343.9L1027.5,336.0L1026.3,328.2L1024.8,320.3L1023.1,312.4L1021.2,304.6L1018.9,296.8L1016.5,289.0L1013.8,281.2L1010.8,273.5L1007.7,265.9L1004.3,258.4L1000.7,251.0L996.9,243.6L992.9,236.5L988.7,229.4L984.3,222.5L979.7,215.8L975.0,209.3L970.1,202.9L965.1,196.8L959.9,190.9L954.6,185.2L949.2,179.7L943.6,174.6L938.0,169.6L932.3,165.0L926.4,160.7L920.6,156.6L914.6,152.9L908.6,149.5L902.5,146.4L896.5,143.6L890.3,141.2L884.2,139.1L878.1,137.4L871.9,136.0L865.8,135.0L859.7,134.4L853.6,134.1L847.5,134.2L841.5,134.6L835.5,135.4L829.6,136.5L823.7,138.0L817.9,139.9L812.2,142.1L806.5,144.7L800.9,147.6L795.4,150.8L790.1,154.3L784.8,158.2L779.6,162.3L774.5,166.8L769.5,171.5L764.7,176.6L759.9,181.9L755.3,187.4L750.8,193.2L746.5,199.2L742.3,205.4L738.2,211.8L734.2,218.4L730.4,225.2L726.8,232.2L723.2,239.3L719.9,246.5L716.6,253.9L713.5,261.3L710.6,268.9L707.8,276.5L705.2,284.3L702.7,292.0L700.4,299.8L698.3,307.7L696.3,315.5L694.4,323.4L692.7,331.3L691.2,339.1L689.8,347.0L688.6,354.7L687.6,362.5L686.7,370.2L686.0,377.8L685.4,385.3L685.0,392.8L684.7,400.2L684.7,407.4L684.7,414.6L685.0,421.6L685.4,428.6L686.0,435.4L686.7,442.1L687.6,448.6L688.6,455.0L689.8,461.3L691.2,467.4L692.7,473.3L694.4,479.1L696.3,484.7L698.3,490.2L700.4,495.5L702.7,500.6L705.2,505.6L707.8,510.3L710.6,515.0L713.5,519.4L716.6,523.6L719.9,527.7L723.2,531.6L726.8,535.3L730.4,538.8L734.2,542.1L738.2,545.3L742.3,548.3L746.5,551.0L750.8,553.6L755.3,556.0L759.9,558.2L764.7,560.3L769.5,562.1L774.5,563.8L779.6,565.2L784.8,566.5L790.1,567.6L795.4,568.5L800.9,569.2L806.5,569.8L812.2,570.1L817.9,570.2L823.7,570.2L829.6,570.0L835.5,569.6L841.5,569.0L847.5,568.2L853.6,567.2L859.7,566.0L865.8,564.7L871.9,563.1L878.1,561.4L884.2,559.5L890.3,557.4L896.5,555.1L902.5,552.6L908.6,550.0L914.6,547.1L920.6,544.1L926.4,540.8L932.3,537.4L938.0,533.8L943.6,530.1L949.2,526.1L954.6,522.0L959.9,517.7L965.1,513.2L970.1,508.5L975.0,503.6L979.7,498.6L984.3,493.4L988.7,488.1L992.9,482.5L996.9,476.8L1000.7,471.0L1004.3,465.0L1007.7,458.8L1010.8,452.5L1013.8,446.0L1016.5,439.5L1018.9,432.7L1021.2,425.9L1023.1,418.9L1024.8,411.8L1026.3,404.6L1027.5,397.3L1028.4,389.9L1029.1,382.4L1029.5,374.8Z"/>
<path d="M1093.2,672.4L1093.0,667.3L1092.6,662.2L1091.8,657.0L1090.8,651.7L1089.5,646.5L1087.8,641.2L1085.9,635.9L1083.8,630.6L1081.3,625.4L1078.5,620.1L1075.5,614.9L1072.3,609.7L1068.8,604.5L1065.0,599.4L1061.0,594.4L1056.8,589.4L1052.3,584.5L1047.7,579.7L1042.8,575.0L1037.7,570.4L1032.5,566.0L1027.1,561.6L1021.5,557.5L1015.7,553.4L1009.9,549.5L1003.8,545.8L997.7,542.3L991.5,538.9L985.1,535.8L978.7,532.8L972.1,530.1L965.6,527.6L958.9,525.3L952.2,523.2L945.5,521.4L938.7,519.8L932.0,518.4L925.2,517.3L918.4,516.4L911.6,515.8L904.9,515.5L898.1,515.4L891.4,515.5L884.8,515.9L878.2,516.6L871.7,517.5L865.2,518.7L858.8,520.1L852.5,521.8L846.3,523.6L840.1,525.8L834.1,528.1L828.2,530.7L822.4,533.5L816.7,536.5L811.1,539.7L805.6,543.1L800.3,546.6L795.1,550.4L790.1,554.3L785.1,558.4L780.4,562.6L775.7,567.0L771.2,571.5L766.9,576.1L762.7,580.8L758.7,585.6L754.9,590.5L751.2,595.5L747.6,600.5L744.3,605.7L741.1,610.8L738.0,616.0L735.2,621.3L732.4,626.5L729.9,631.8L727.6,637.1L725.4,642.4L723.4,647.6L721.5,652.9L719.8,658.1L718.3,663.3L717.0,668.5L715.9,673.6L714.9,678.6L714.1,683.6L713.5,688.5L713.1,693.4L712.8,698.2L712.7,702.9L712.8,707.5L713.1,712.1L713.5,716.5L714.1,720.9L714.9,725.2L715.9,729.3L717.0,733.4L718.3,737.3L719.8,741.2L721.5,744.9L723.4,748.6L725.4,752.1L727.6,755.5L729.9,758.8L732.4,762.0L735.2,765.1L738.0,768.0L741.1,770.9L744.3,773.6L747.6,776.2L751.2,778.7L754.9,781.0L758.7,783.3L762.7,785.4L766.9,787.4L771.2,789.3L775.7,791.1L780.4,792.8L785.1,794.3L790.1,795.8L795.1,797.1L800.3,798.3L805.6,799.4L811.1,800.3L816.7,801.2L822.4,801.9L828.2,802.5L834.1,803.1L840.1,803.4L846.3,803.7L852.5,803.9L858.8,803.9L865.2,803.8L871.7,803.7L878.2,803.4L884.8,802.9L891.4,802.4L898.1,801.8L904.9,801.0L911.6,800.1L918.4,799.1L925.2,798.0L932.0,796.8L938.7,795.5L945.5,794.0L952.2,792.4L958.9,790.7L965.6,788.9L972.1,787.0L978.7,785.0L985.1,782.8L991.5,780.5L997.7,778.1L1003.8,775.6L1009.9,773.0L1015.7,770.2L1021.5,767.4L1027.1,764.4L1032.5,761.3L1037.7,758.1L1042.8,754.8L1047.7,751.3L1052.3,747.8L1056.8,744.1L1061.0,740.3L1065.0,736.5L1068.8,732.5L1072.3,728.4L1075.5,724.2L1078.5,719.9L1081.3,715.5L1083.8,711.1L1085.9,706.5L1087.8,701.9L1089.5,697.1L1090.8,692.3L1091.8,687.5L1092.6,682.5L1093.0,677.5Z"/>
<path d="M1073.7,424.3L1073.6,413.4L1073.2,402.4L1072.5,391.3L1071.5,380.0L1070.2,368.7L1068.7,357.3L1066.8,345.9L1064.8,334.4L1062.4,322.9L1059.8,311.4L1056.9,299.9L1053.8,288.5L1050.5,277.1L1046.9,265.9L1043.0,254.7L1039.0,243.7L1034.7,232.8L1030.3,222.1L1025.6,211.7L1020.8,201.4L1015.8,191.4L1010.6,181.7L1005.3,172.3L999.8,163.2L994.2,154.5L988.4,146.2L982.5,138.2L976.6,130.7L970.5,123.6L964.3,117.0L958.1,110.8L951.8,105.2L945.4,100.0L939.0,95.4L932.6,91.4L926.1,87.9L919.6,84.9L913.1,82.6L906.6,80.8L900.1,79.6L893.6,79.0L887.1,79.0L880.7,79.5L874.3,80.7L868.0,82.5L861.7,84.8L855.5,87.7L849.4,91.2L843.3,95.2L837.3,99.8L831.4,104.9L825.6,110.5L819.9,116.7L814.3,123.3L808.8,130.3L803.5,137.8L798.2,145.8L793.1,154.1L788.1,162.8L783.2,171.8L778.5,181.2L773.9,190.9L769.4,200.9L765.1,211.1L760.9,221.6L756.9,232.3L753.0,243.1L749.3,254.2L745.7,265.3L742.3,276.6L739.0,287.9L735.9,299.4L733.0,310.8L730.2,322.3L727.6,333.8L725.2,345.3L722.9,356.7L720.8,368.1L718.8,379.5L717.0,390.7L715.4,401.8L714.0,412.8L712.7,423.7L711.6,434.5L710.7,445.1L709.9,455.5L709.3,465.7L708.9,475.8L708.6,485.7L708.5,495.3L708.6,504.8L708.9,514.1L709.3,523.1L709.9,531.9L710.7,540.4L711.6,548.8L712.7,556.9L714.0,564.8L715.4,572.4L717.0,579.8L718.8,586.9L720.8,593.8L722.9,600.4L725.2,606.8L727.6,613.0L730.2,618.9L733.0,624.6L735.9,630.0L739.0,635.2L742.3,640.2L745.7,644.9L749.3,649.4L753.0,653.6L756.9,657.6L760.9,661.4L765.1,664.9L769.4,668.2L773.9,671.3L778.5,674.2L783.2,676.8L788.1,679.2L793.1,681.4L798.2,683.4L803.5,685.1L808.8,686.6L814.3,687.9L819.9,689.0L825.6,689.9L831.4,690.5L837.3,691.0L843.3,691.2L849.4,691.2L855.5,691.0L861.7,690.6L868.0,689.9L874.3,689.1L880.7,688.0L887.1,686.7L893.6,685.2L900.1,683.4L906.6,681.5L913.1,679.3L919.6,676.9L926.1,674.3L932.6,671.5L939.0,668.4L945.4,665.1L951.8,661.6L958.1,657.8L964.3,653.8L970.5,649.6L976.6,645.1L982.5,640.4L988.4,635.5L994.2,630.3L999.8,624.9L1005.3,619.2L1010.6,613.3L1015.8,607.2L1020.8,600.8L1025.6,594.1L1030.3,587.2L1034.7,580.1L1039.0,572.8L1043.0,565.1L1046.9,557.3L1050.5,549.2L1053.8,540.9L1056.9,532.3L1059.8,523.5L1062.4,514.5L1064.8,505.3L1066.8,495.8L1068.7,486.2L1070.2,476.3L1071.5,466.3L1072.5,456.0L1073.2,445.6L1073.6,435.0Z"/>
<path d="M1007.9,786.8L1007.8,781.0L1007.4,775.1L1006.8,769.2L1006.0,763.1L1004.9,756.9L1003.6,750.7L1002.0,744.4L1000.3,738.0L998.3,731.6L996.0,725.1L993.6,718.7L991.0,712.1L988.1,705.6L985.0,699.1L981.8,692.6L978.3,686.2L974.7,679.8L970.9,673.4L967.0,667.1L962.8,661.0L958.5,654.9L954.1,649.0L949.5,643.2L944.9,637.5L940.0,632.0L935.1,626.8L930.1,621.7L925.0,616.9L919.7,612.2L914.5,607.9L909.1,603.8L903.7,600.0L898.2,596.4L892.7,593.2L887.1,590.3L881.5,587.7L875.9,585.5L870.3,583.6L864.7,582.0L859.1,580.8L853.5,579.9L847.9,579.5L842.3,579.3L836.8,579.6L831.3,580.2L825.8,581.1L820.5,582.4L815.1,584.1L809.8,586.1L804.6,588.4L799.5,591.1L794.4,594.1L789.4,597.4L784.5,601.0L779.8,604.9L775.1,609.1L770.5,613.5L766.0,618.2L761.6,623.1L757.3,628.2L753.1,633.6L749.1,639.1L745.2,644.8L741.4,650.6L737.7,656.6L734.2,662.7L730.7,668.9L727.5,675.2L724.3,681.6L721.3,688.0L718.4,694.4L715.7,700.9L713.1,707.5L710.6,714.0L708.3,720.5L706.2,727.0L704.2,733.4L702.3,739.8L700.6,746.2L699.0,752.5L697.6,758.7L696.3,764.8L695.1,770.8L694.2,776.8L693.3,782.6L692.6,788.4L692.1,794.0L691.7,799.5L691.5,804.8L691.4,810.1L691.5,815.2L691.7,820.2L692.1,825.0L692.6,829.7L693.3,834.3L694.2,838.8L695.1,843.1L696.3,847.2L697.6,851.2L699.0,855.1L700.6,858.9L702.3,862.5L704.2,865.9L706.2,869.3L708.3,872.5L710.6,875.5L713.1,878.5L715.7,881.3L718.4,884.0L721.3,886.5L724.3,888.9L727.5,891.2L730.7,893.4L734.2,895.5L737.7,897.4L741.4,899.3L745.2,901.0L749.1,902.6L753.1,904.1L757.3,905.4L761.6,906.7L766.0,907.9L770.5,908.9L775.1,909.9L779.8,910.7L784.5,911.5L789.4,912.1L794.4,912.6L799.5,913.1L804.6,913.4L809.8,913.6L815.1,913.8L820.5,913.8L825.8,913.7L831.3,913.6L836.8,913.3L842.3,913.0L847.9,912.5L853.5,911.9L859.1,911.3L864.7,910.5L870.3,909.6L875.9,908.6L881.5,907.5L887.1,906.4L892.7,905.1L898.2,903.6L903.7,902.1L909.1,900.5L914.5,898.7L919.7,896.9L925.0,894.9L930.1,892.8L935.1,890.6L940.0,888.3L944.9,885.8L949.5,883.2L954.1,880.5L958.5,877.7L962.8,874.7L967.0,871.6L970.9,868.3L974.7,865.0L978.3,861.5L981.8,857.8L985.0,854.0L988.1,850.1L991.0,846.1L993.6,841.9L996.0,837.5L998.3,833.0L1000.3,828.4L1002.0,823.7L1003.6,818.8L1004.9,813.8L1006.0,808.6L1006.8,803.3L1007.4,797.9L1007.8,792.4Z"/>
<path d="M1022.2,883.4L1022.1,878.1L1021.7,872.6L1021.1,866.9L1020.2,861.1L1019.1,855.2L1017.7,849.1L1016.1,842.9L1014.2,836.5L1012.1,830.0L1009.8,823.4L1007.2,816.8L1004.5,810.0L1001.5,803.1L998.3,796.2L994.9,789.3L991.2,782.3L987.4,775.3L983.5,768.3L979.3,761.4L975.0,754.5L970.5,747.6L965.9,740.9L961.1,734.2L956.2,727.7L951.1,721.3L946.0,715.2L940.7,709.2L935.4,703.4L929.9,697.9L924.4,692.7L918.8,687.7L913.1,683.1L907.4,678.8L901.6,674.8L895.8,671.2L890.0,668.0L884.1,665.2L878.3,662.8L872.4,660.8L866.6,659.3L860.7,658.2L854.9,657.5L849.1,657.3L843.3,657.5L837.6,658.2L831.9,659.3L826.3,660.9L820.7,662.8L815.2,665.3L809.8,668.1L804.5,671.3L799.2,674.9L794.0,678.8L789.0,683.2L784.0,687.8L779.1,692.7L774.3,698.0L769.7,703.5L765.1,709.3L760.7,715.2L756.3,721.4L752.2,727.8L748.1,734.3L744.2,741.0L740.3,747.7L736.7,754.6L733.1,761.5L729.7,768.4L726.5,775.4L723.4,782.4L720.4,789.4L717.5,796.3L714.9,803.2L712.3,810.1L709.9,816.9L707.7,823.5L705.6,830.1L703.7,836.6L701.9,842.9L700.3,849.2L698.8,855.3L697.5,861.2L696.3,867.0L695.3,872.7L694.4,878.1L693.7,883.5L693.2,888.6L692.8,893.6L692.5,898.5L692.5,903.1L692.5,907.7L692.8,912.0L693.2,916.2L693.7,920.2L694.4,924.1L695.3,927.8L696.3,931.3L697.5,934.7L698.8,938.0L700.3,941.1L701.9,944.1L703.7,946.9L705.6,949.6L707.7,952.2L709.9,954.7L712.3,957.0L714.9,959.2L717.5,961.3L720.4,963.3L723.4,965.2L726.5,966.9L729.7,968.6L733.1,970.2L736.7,971.6L740.3,973.0L744.2,974.3L748.1,975.5L752.2,976.6L756.3,977.6L760.7,978.6L765.1,979.5L769.7,980.3L774.3,981.0L779.1,981.6L784.0,982.2L789.0,982.7L794.0,983.1L799.2,983.5L804.5,983.8L809.8,984.0L815.2,984.2L820.7,984.3L826.3,984.3L831.9,984.3L837.6,984.2L843.3,984.0L849.1,983.8L854.9,983.5L860.7,983.1L866.6,982.7L872.4,982.2L878.3,981.6L884.1,981.0L890.0,980.3L895.8,979.5L901.6,978.6L907.4,977.6L913.1,976.6L918.8,975.5L924.4,974.3L929.9,973.0L935.4,971.6L940.7,970.1L946.0,968.6L951.1,966.9L956.2,965.1L961.1,963.3L965.9,961.3L970.5,959.2L975.0,957.0L979.3,954.6L983.5,952.2L987.4,949.6L991.2,946.9L994.9,944.1L998.3,941.1L1001.5,938.0L1004.5,934.7L1007.2,931.3L1009.8,927.7L1012.1,924.0L1014.2,920.2L1016.1,916.1L1017.7,911.9L1019.1,907.6L1020.2,903.1L1021.1,898.4L1021.7,893.6L1022.1,888.6Z"/>
<path d="M1136.5,912.4L1136.4,906.1L1135.9,899.4L1135.0,892.5L1133.9,885.3L1132.4,877.8L1130.6,870.0L1128.5,861.9L1126.0,853.5L1123.3,844.9L1120.3,836.0L1116.9,826.8L1113.3,817.4L1109.4,807.8L1105.2,798.0L1100.8,787.9L1096.1,777.8L1091.1,767.4L1086.0,757.0L1080.6,746.5L1074.9,736.0L1069.1,725.4L1063.1,714.9L1056.9,704.5L1050.6,694.2L1044.1,684.1L1037.4,674.1L1030.6,664.5L1023.7,655.1L1016.7,646.0L1009.6,637.4L1002.4,629.2L995.2,621.5L987.8,614.3L980.5,607.7L973.1,601.7L965.6,596.3L958.2,591.6L950.7,587.6L943.3,584.3L935.8,581.8L928.4,580.1L921.0,579.1L913.7,578.9L906.4,579.5L899.2,580.8L892.1,582.9L885.0,585.8L878.0,589.4L871.1,593.7L864.3,598.8L857.6,604.4L851.0,610.7L844.6,617.6L838.2,625.1L832.0,633.0L826.0,641.4L820.0,650.3L814.2,659.5L808.6,669.0L803.1,678.8L797.8,688.8L792.6,699.1L787.6,709.4L782.7,719.9L778.0,730.4L773.5,741.0L769.2,751.5L765.0,762.0L761.0,772.3L757.2,782.6L753.5,792.7L750.1,802.6L746.8,812.4L743.7,821.9L740.8,831.2L738.0,840.2L735.5,849.0L733.1,857.5L731.0,865.8L729.0,873.7L727.2,881.4L725.6,888.7L724.1,895.8L722.9,902.6L721.9,909.1L721.0,915.3L720.4,921.3L719.9,926.9L719.6,932.3L719.5,937.4L719.6,942.3L719.9,946.9L720.4,951.3L721.0,955.5L721.9,959.4L722.9,963.1L724.1,966.6L725.6,969.9L727.2,973.1L729.0,976.0L731.0,978.8L733.1,981.4L735.5,983.9L738.0,986.2L740.8,988.3L743.7,990.4L746.8,992.3L750.1,994.1L753.5,995.7L757.2,997.3L761.0,998.8L765.0,1000.1L769.2,1001.4L773.5,1002.6L778.0,1003.6L782.7,1004.7L787.6,1005.6L792.6,1006.4L797.8,1007.2L803.1,1008.0L808.6,1008.6L814.2,1009.2L820.0,1009.7L826.0,1010.2L832.0,1010.6L838.2,1011.0L844.6,1011.3L851.0,1011.6L857.6,1011.8L864.3,1011.9L871.1,1012.1L878.0,1012.1L885.0,1012.1L892.1,1012.1L899.2,1012.0L906.4,1011.9L913.7,1011.7L921.0,1011.5L928.4,1011.2L935.8,1010.8L943.3,1010.4L950.7,1010.0L958.2,1009.5L965.6,1008.9L973.1,1008.3L980.5,1007.6L987.8,1006.9L995.2,1006.0L1002.4,1005.2L1009.6,1004.2L1016.7,1003.1L1023.7,1002.0L1030.6,1000.8L1037.4,999.5L1044.1,998.1L1050.6,996.6L1056.9,995.0L1063.1,993.2L1069.1,991.4L1074.9,989.4L1080.6,987.3L1086.0,985.1L1091.1,982.7L1096.1,980.2L1100.8,977.5L1105.2,974.6L1109.4,971.6L1113.3,968.4L1116.9,965.0L1120.3,961.4L1123.3,957.6L1126.0,953.5L1128.5,949.3L1130.6,944.8L1132.4,940.0L1133.9,935.0L1135.0,929.8L1135.9,924.3L1136.4,918.5Z"/>
</g>
<polyline class="ln" points="176.5,1015.2 175.2,991.0 177.5,934.0 183.0,770.8 188.7,701.7 197.8,752.5 223.7,905.0 268.7,747.0 304.7,805.5 341.0,727.0 382.7,640.0 408.7,483.7 487.5,494.5 521.2,425.5 596.5,306.0 695.6,487.3 775.7,466.6 835.5,387.6 878.2,688.0 868.0,460.9 831.3,798.7 837.6,893.6 899.2,925.6"/>
<g class="yr">
<text x="176.5" y="1020.2">2002</text>
<text x="175.2" y="996.0">2003</text>
<text x="177.5" y="939.0">2004</text>
<text x="183.0" y="775.8">2005</text>
<text x="188.7" y="706.7">2006</text>
<text x="197.8" y="757.5">2007</text>
<text x="223.7" y="910.0">2008</text>
<text x="268.7" y="752.0">2009</text>
<text x="304.7" y="810.5">2010</text>
<text x="341.0" y="732.0">2011</text>
<text x="382.7" y="645.0">2012</text>
<text x="408.7" y="488.7">2013</text>
<text x="487.5" y="499.5">2014</text>
<text x="521.2" y="430.5">2015</text>
<text x="596.5" y="311.0">2016</text>
<text x="695.6" y="492.3">2017</text>
<text x="775.7" y="471.6">2018</text>
<text x="835.5" y="392.6">2019</text>
<text x="878.2" y="693.0">2020</text>
<text x="868.0" y="465.9">2021</text>
<text x="831.3" y="803.7">2022</text>
<text x="837.6" y="898.6">2023</text>
<text x="899.2" y="930.6">2024</text>
</g>
<g class="bx">
<rect x="120" y="24" width="1056" height="1056"/>
<path d="M159.1,1080H1002.3"/>
<path d="M159.1,1080v12"/>
<path d="M369.9,1080v12"/>
<path d="M580.7,1080v12"/>
<path d="M791.5,1080v12"/>
<path d="M1002.3,1080v12"/>
<path d="M120,1040.9V138.9"/>
<path d="M120,1040.9h-12"/>
<path d="M120,860.5h-12"/>
<path d="M120,680.1h-12"/>
<path d="M120,499.7h-12"/>
<path d="M120,319.3h-12"/>
<path d="M120,138.9h-12"/>
</g>
<g class="ax" text-anchor="middle">
<text x="159.1" y="1123.2">0</text>
<text x="369.9" y="1123.2">2000</text>
<text x="580.7" y="1123.2">4000</text>
<text x="791.5" y="1123.2">6000</text>
<text x="1002.3" y="1123.2">8000</text>
<text transform="translate(91.2,1040.9) rotate(-90)">0</text>
<text transform="translate(91.2,860.5) rotate(-90)">2000</text>
<text transform="translate(91.2,680.1) rotate(-90)">4000</text>
<text transform="translate(91.2,499.7) rotate(-90)">6000</text>
<text transform="translate(91.2,319.3) rotate(-90)">8000</text>
<text transform="translate(91.2,138.9) rotate(-90)">10000</text>
<text x="648" y="1171.2">SSB</text>
<text transform="translate(43.2,552) rotate(-90)">R(age 2)</text>
</g>
<text x="858.8" y="1197" font-size="10" textLength="336.8" lengthAdjust="spacing" fill="#000">stockassessment.org, NWWG25_S-WISC_v2, r19186 , git: 1cc464b80f6f</text>
</svg></body></html>
